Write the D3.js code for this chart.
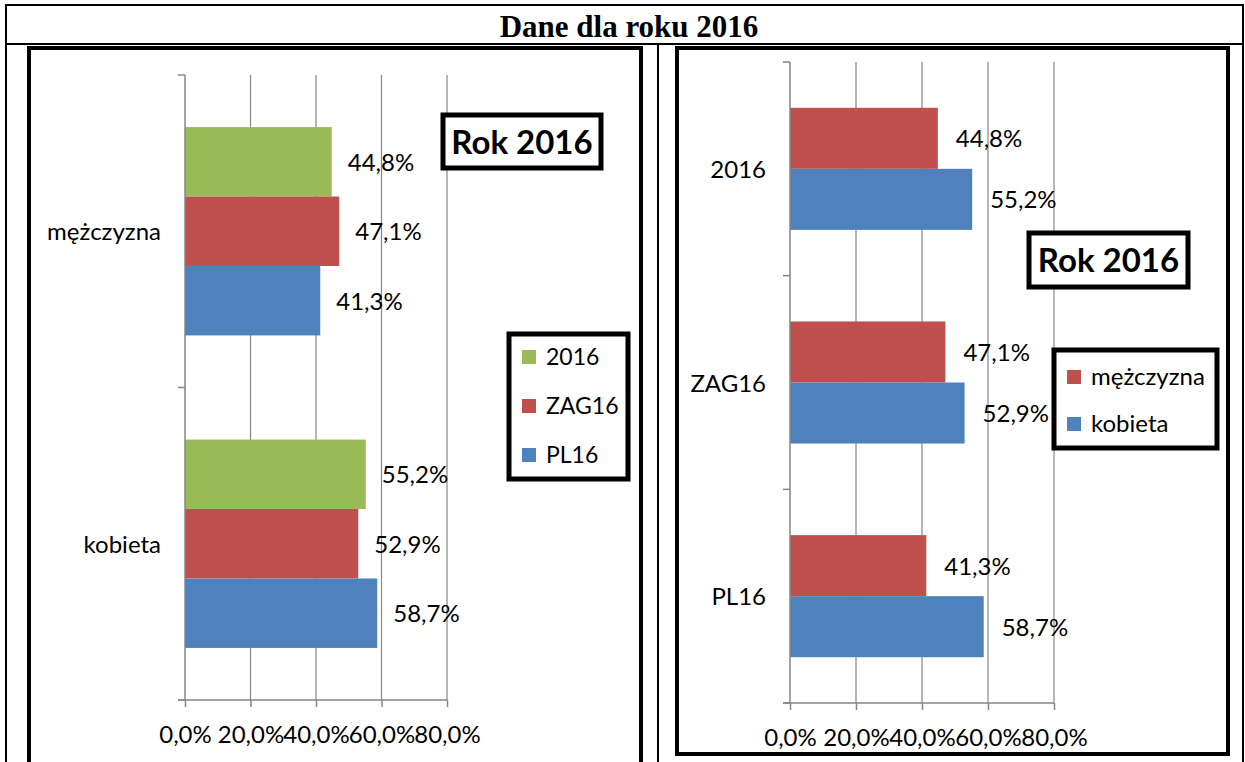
<!DOCTYPE html>
<html>
<head>
<meta charset="utf-8">
<script src="https://cdn.jsdelivr.net/npm/d3@7"></script>
<style>
  body { margin: 0; background: #fff; }
  svg text { font-family: Lato, "Open Sans", sans-serif; }
</style>
</head>
<body>
<svg id="chart" width="1245" height="762"></svg>
<script>
// left chart: categories = sex, series = region
const sexCategories = ["mężczyzna", "kobieta"];
const regionSeries = ["2016", "ZAG16", "PL16"];
const values2016 = [44.8, 55.2];
const valuesZAG16 = [47.1, 52.9];
const valuesPL16 = [41.3, 58.7];

// right chart: categories = region, series = sex
const regionCategories = ["2016", "ZAG16", "PL16"];
const sexSeries = ["mężczyzna", "kobieta"];
const menValues = [44.8, 47.1, 41.3];
const womenValues = [55.2, 52.9, 58.7];

const tickValues = [0, 20, 40, 60, 80];
const fmt = v => v.toFixed(1).replace(".", ",") + "%";

const colors = { "2016": "#9BBB59", "ZAG16": "#C0504D", "PL16": "#4F81BD",
                 "mężczyzna": "#C0504D", "kobieta": "#4F81BD" };
const gridColor = "#868686";

const svg = d3.select("#chart");

// table frame
svg.append("line").attr("x1", 6).attr("x2", 1243).attr("y1", 5).attr("y2", 5).attr("stroke", "#000").attr("stroke-width", 2);
svg.append("line").attr("x1", 6).attr("x2", 1243).attr("y1", 44).attr("y2", 44).attr("stroke", "#000").attr("stroke-width", 2);
svg.append("line").attr("x1", 6).attr("x2", 6).attr("y1", 4).attr("y2", 762).attr("stroke", "#000").attr("stroke-width", 2);
svg.append("line").attr("x1", 1243).attr("x2", 1243).attr("y1", 4).attr("y2", 762).attr("stroke", "#000").attr("stroke-width", 2);
svg.append("line").attr("x1", 658).attr("x2", 658).attr("y1", 44).attr("y2", 762).attr("stroke", "#000").attr("stroke-width", 2);

svg.append("text")
  .attr("x", 629).attr("y", 37)
  .attr("text-anchor", "middle")
  .style("font-family", "'Liberation Serif', 'Times New Roman', serif")
  .style("font-weight", "bold")
  .style("font-size", "31px")
  .text("Dane dla roku 2016");

function drawChart(opt) {
  const g = svg.append("g");

  // chart frame
  g.append("rect")
    .attr("x", opt.frame[0]).attr("y", opt.frame[1])
    .attr("width", opt.frame[2]).attr("height", opt.frame[3])
    .attr("fill", "none").attr("stroke", "#000").attr("stroke-width", 4);

  const x = d3.scaleLinear().domain([0, 80]).range(opt.xRange);
  const y = d3.scaleBand().domain(opt.categories).range(opt.yRange);
  const inner = d3.scaleBand().domain(opt.series).range([0, y.bandwidth()])
    .paddingInner(0).paddingOuter(0.75);

  // gridlines
  g.selectAll(".grid").data(tickValues.slice(1)).enter().append("line")
    .attr("x1", d => x(d)).attr("x2", d => x(d))
    .attr("y1", opt.yRange[0]).attr("y2", opt.yRange[1])
    .attr("stroke", gridColor).attr("stroke-width", 1.2);

  // bars
  opt.series.forEach((s, si) => {
    g.selectAll(".bar" + si).data(opt.values[si]).enter().append("rect")
      .attr("x", x(0))
      .attr("y", (d, i) => y(opt.categories[i]) + inner(s))
      .attr("width", d => x(d) - x(0))
      .attr("height", inner.bandwidth())
      .attr("fill", colors[s]);
    g.selectAll(".lab" + si).data(opt.values[si]).enter().append("text")
      .attr("x", d => x(d) + opt.labelGap)
      .attr("y", (d, i) => y(opt.categories[i]) + inner(s) + inner.bandwidth() / 2 + 9)
      .style("font-size", opt.fontSize + "px")
      .attr("fill", "#000")
      .text(d => fmt(d));
  });

  // category axis
  g.append("line")
    .attr("x1", x(0)).attr("x2", x(0))
    .attr("y1", opt.yRange[0]).attr("y2", opt.yRange[1])
    .attr("stroke", gridColor).attr("stroke-width", 1.5);
  const bounds = opt.categories.map(c => y(c)).concat([opt.yRange[1]]);
  g.selectAll(".ctick").data(bounds).enter().append("line")
    .attr("x1", x(0) - 7).attr("x2", x(0))
    .attr("y1", d => d).attr("y2", d => d)
    .attr("stroke", gridColor).attr("stroke-width", 1.5);
  g.selectAll(".clab").data(opt.categories).enter().append("text")
    .attr("x", x(0) - 24)
    .attr("y", d => y(d) + y.bandwidth() / 2 + 9)
    .attr("text-anchor", "end")
    .style("font-size", opt.fontSize + "px")
    .text(d => d);

  // value axis
  const axis = g.append("g")
    .attr("transform", "translate(0," + opt.yRange[1] + ")")
    .call(d3.axisBottom(x).tickValues(tickValues).tickSize(7).tickSizeOuter(0).tickFormat(fmt));
  axis.select(".domain").attr("stroke", gridColor).attr("stroke-width", 1.5)
    .attr("d", "M" + (x(0) - 7) + ",0H" + x(80));
  axis.selectAll(".tick line").attr("stroke", gridColor).attr("stroke-width", 1.5);
  axis.selectAll(".tick text")
    .attr("y", 26)
    .style("font-family", "Lato, 'Open Sans', sans-serif")
    .style("font-size", opt.fontSize + "px")
    .attr("fill", "#000");

  // "Rok 2016" box
  const rb = opt.rokBox;
  g.append("rect").attr("x", rb[0]).attr("y", rb[1]).attr("width", rb[2]).attr("height", rb[3])
    .attr("fill", "#fff").attr("stroke", "#000").attr("stroke-width", 5);
  g.append("text")
    .attr("x", rb[0] + rb[2] / 2).attr("y", rb[1] + rb[3] / 2 + 12)
    .attr("text-anchor", "middle")
    .style("font-size", "33px").style("font-weight", "bold")
    .text("Rok 2016");

  // legend
  const lb = opt.legendBox;
  g.append("rect").attr("x", lb[0]).attr("y", lb[1]).attr("width", lb[2]).attr("height", lb[3])
    .attr("fill", "#fff").attr("stroke", "#000").attr("stroke-width", 5);
  const item = g.selectAll(".leg").data(opt.series).enter().append("g")
    .attr("transform", (d, i) => "translate(" + (lb[0] + 13) + "," + (lb[1] + opt.legendFirst + i * opt.legendStep) + ")");
  item.append("rect").attr("x", 0).attr("y", -7).attr("width", 14).attr("height", 14)
    .attr("fill", d => colors[d]);
  item.append("text").attr("x", 24).attr("y", 8)
    .style("font-size", opt.legendFont + "px")
    .text(d => d);
}

drawChart({
  frame: [29, 48, 612, 730],
  categories: sexCategories,
  series: regionSeries,
  values: [values2016, valuesZAG16, valuesPL16],
  xRange: [185, 447],
  yRange: [75, 700],
  labelGap: 16,
  fontSize: 24,
  legendFont: 23,
  rokBox: [443, 115, 158, 53],
  legendBox: [509, 334, 119, 145],
  legendFirst: 23,
  legendStep: 49
});

drawChart({
  frame: [677, 48, 551, 706],
  categories: regionCategories,
  series: sexSeries,
  values: [menValues, womenValues],
  xRange: [790, 1054],
  yRange: [62, 703],
  labelGap: 18,
  fontSize: 24,
  legendFont: 24,
  rokBox: [1029, 233, 159, 54],
  legendBox: [1054, 350, 163, 98],
  legendFirst: 27,
  legendStep: 47
});
</script>
</body>
</html>
